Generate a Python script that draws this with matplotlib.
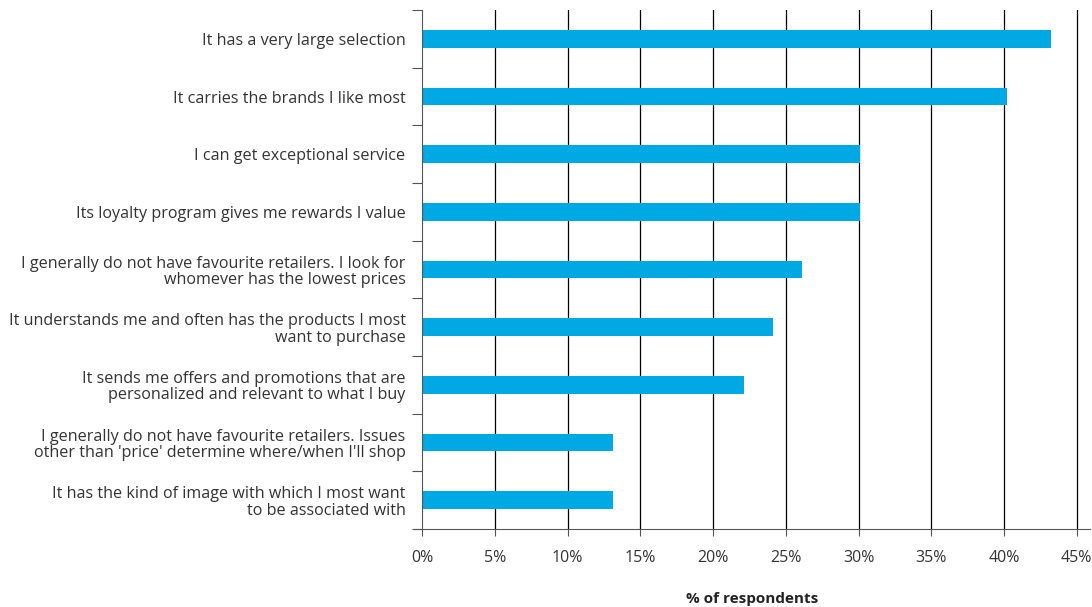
import matplotlib.pyplot as plt
import numpy as np

plt.rcParams['font.family'] = ['Open Sans', 'DejaVu Sans']

labels = [
    "It has a very large selection",
    "It carries the brands I like most",
    "I can get exceptional service",
    "Its loyalty program gives me rewards I value",
    "I generally do not have favourite retailers. I look for\nwhomever has the lowest prices",
    "It understands me and often has the products I most\nwant to purchase",
    "It sends me offers and promotions that are\npersonalized and relevant to what I buy",
    "I generally do not have favourite retailers. Issues\nother than 'price' determine where/when I'll shop",
    "It has the kind of image with which I most want\nto be associated with",
]
values = [43.2, 40.2, 30.1, 30.1, 26.1, 24.1, 22.1, 13.1, 13.1]
xticks = [0, 5, 10, 15, 20, 25, 30, 35, 40, 45]

fig = plt.figure(figsize=(10.92, 6.07), dpi=100)
ax = fig.add_axes([0.38, 0.1285, 0.998 - 0.38, 0.9835 - 0.1285])

y = np.arange(len(labels))
ax.set_xlim(-0.5, 45.9)
ax.set_ylim(len(labels) - 0.5, -0.5)

# vertical grid lines
for t in xticks[1:]:
    ax.axvline(t, color='black', lw=0.9, zorder=1)

ax.barh(y, values, height=0.31, color='#00A9E3', zorder=2)

for s in ['top', 'right']:
    ax.spines[s].set_visible(False)
ax.spines['left'].set_position(('data', 0))
ax.spines['left'].set_color('#555555')
ax.spines['bottom'].set_color('#555555')

# ticks on category boundaries, labels at centres
ax.set_yticks(np.arange(-0.5, len(labels) + 0.5, 1))
ax.set_yticklabels([])
ax.set_yticks(y, minor=True)
ax.set_yticklabels(labels, minor=True, ha='right', fontsize=11.6,
                   color='#333333', linespacing=1.05)
ax.tick_params(axis='y', which='major', length=7, color='#555555')
ax.tick_params(axis='y', which='minor', length=0, pad=12)

ax.set_xticks(xticks)
ax.set_xticklabels([f"{t}%" for t in xticks], fontsize=11.5, color='#333333')
ax.tick_params(axis='x', length=5, color='#555555', pad=10)

ax.set_xlabel("% of respondents", fontsize=11, fontweight='bold',
              color='#222222', labelpad=19)

fig.savefig('out.png', dpi=100)
